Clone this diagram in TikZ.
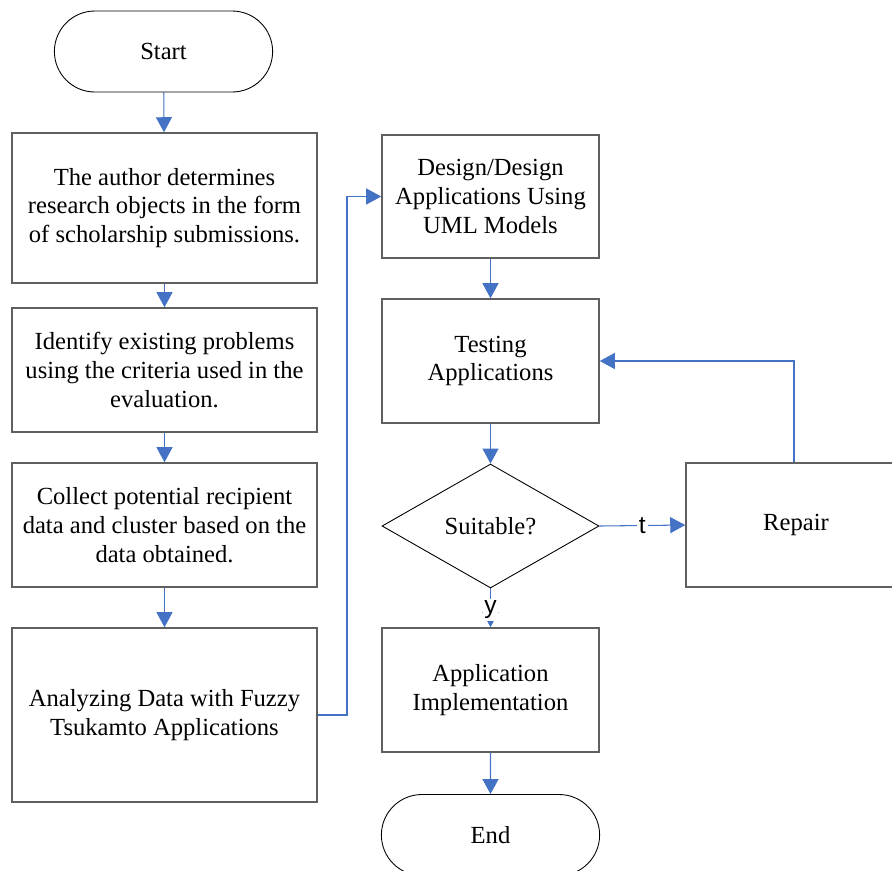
\documentclass[tikz,border=0pt]{standalone}
\usepackage{fontspec}
\setmainfont{Liberation Serif}
\setsansfont{Liberation Sans}
\usetikzlibrary{shapes.geometric,shapes.misc,arrows.meta}
\definecolor{flowline}{RGB}{68,114,196}
\definecolor{boxline}{RGB}{95,95,95}
\tikzstyle{process}=[draw=boxline, line width=0.9pt, minimum width=6.1cm, minimum height=2.48cm, align=center, font=\fontsize{14}{16.3}\selectfont]
\tikzstyle{terminal}=[rounded rectangle, draw, line width=0.5pt, minimum width=4.6cm, minimum height=1.62cm, font=\fontsize{14}{16.3}\selectfont]
\tikzstyle{decision}=[diamond, draw, line width=0.5pt, minimum width=4.34cm, minimum height=2.48cm, inner sep=0pt, font=\fontsize{14}{16.3}\selectfont]
\tikzstyle{flow}=[-{Triangle[length=3mm,width=3.2mm]}, color=flowline, line width=0.6pt]
\tikzstyle{answer}=[font=\sffamily\fontsize{14}{16}\selectfont, text=black, fill=white, inner sep=1pt]

\begin{document}
\begin{tikzpicture}[x=0.02cm, y=-0.02cm]
  \useasboundingbox (0,0) rectangle (892,870);

  %% left column
  \draw (163.5,51.5) node[terminal] (start) {Start};
  \draw (164.5,208) node[process, minimum height=3cm] (author) {The author determines\\research objects in the form\\of scholarship submissions.};
  \draw (164.5,370) node[process] (identify) {Identify existing problems\\using the criteria used in the\\evaluation.};
  \draw (164.5,525) node[process] (collect) {Collect potential recipient\\data and cluster based on the\\data obtained.};
  \draw (164.5,715) node[process, minimum height=3.48cm] (analyze) {Analyzing Data with Fuzzy\\Tsukamto Applications};

  %% right column
  \draw (490.5,196.5) node[process, minimum width=4.34cm, minimum height=2.46cm] (design) {Design/Design\\Applications Using\\UML Models};
  \draw (490.5,361) node[process, minimum width=4.34cm] (testing) {Testing\\Applications};
  \draw (490.5,526) node[decision] (suitable) {Suitable?};
  \draw (796,525) node[process, minimum width=4.4cm] (repair) {Repair};
  \draw (490.5,690) node[process, minimum width=4.34cm] (implement) {Application\\Implementation};
  \draw (490.5,835) node[terminal] (end) {End};

  \coordinate (turn) at (347,715);
  \coordinate (back) at (794,361);

  \draw[flow] (start) -- (author);
  \draw[flow] (author) -- (identify);
  \draw[flow] (identify) -- (collect);
  \draw[flow] (collect) -- (analyze);
  \draw[flow] (analyze.east) -- (turn) |- (design.west);
  \draw[flow] (design) -- (testing);
  \draw[flow] (testing) -- (suitable);
  \draw[flow] (suitable.east) -- node[answer, pos=0.5]{t} (repair.west);
  \draw[flow] (repair.north -| back) -- (back) -- (testing.east);
  \draw[flow] (suitable.south) -- node[answer, pos=0.55]{y} (implement.north);
  \draw[flow] (implement) -- (end);
\end{tikzpicture}
\end{document}
